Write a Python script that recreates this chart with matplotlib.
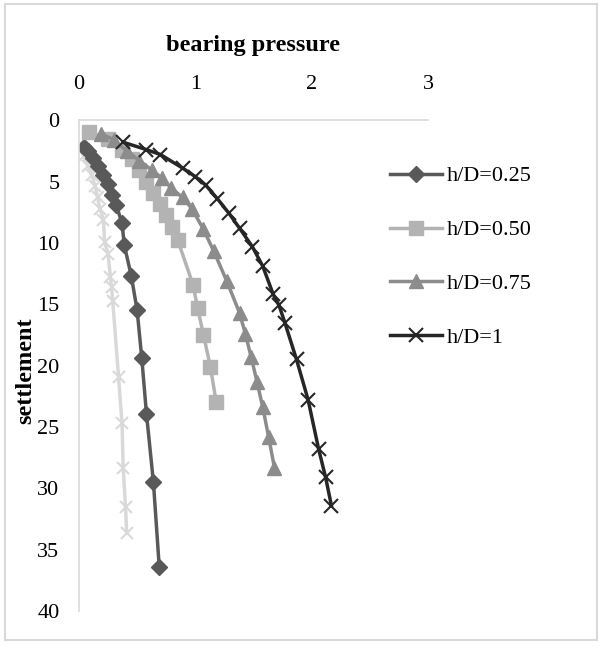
import matplotlib.pyplot as plt
from matplotlib.patches import Rectangle

plt.rcParams['font.family'] = ['Liberation Serif', 'DejaVu Serif']

# bearing pressure (x) vs settlement (y)
p_025 = [0.04, 0.08, 0.12, 0.16, 0.21, 0.25, 0.28, 0.32, 0.37, 0.39, 0.45, 0.50, 0.54, 0.58, 0.64, 0.69]
s_025 = [2.2, 2.5, 3.1, 3.7, 4.5, 5.2, 6.1, 6.9, 8.4, 10.2, 12.7, 15.5, 19.4, 23.9, 29.5, 36.4]

p_050 = [0.09, 0.25, 0.37, 0.46, 0.52, 0.58, 0.64, 0.70, 0.75, 0.80, 0.85, 0.98, 1.02, 1.07, 1.13, 1.18]
s_050 = [1.0, 1.5, 2.4, 3.2, 4.1, 5.0, 5.9, 6.8, 7.7, 8.7, 9.8, 13.4, 15.3, 17.5, 20.1, 23.0]

p_075 = [0.19, 0.30, 0.41, 0.52, 0.63, 0.71, 0.79, 0.89, 0.97, 1.07, 1.16, 1.27, 1.38, 1.43, 1.48, 1.53, 1.58, 1.63, 1.68]
s_075 = [1.1, 1.6, 2.5, 3.3, 4.1, 4.7, 5.5, 6.3, 7.2, 8.9, 10.7, 13.1, 15.7, 17.4, 19.3, 21.3, 23.4, 25.8, 28.3]

p_1 = [0.38, 0.58, 0.70, 0.89, 1.00, 1.09, 1.19, 1.29, 1.38, 1.49, 1.58, 1.67, 1.72, 1.77, 1.87, 1.97, 2.06, 2.12, 2.17]
s_1 = [1.8, 2.4, 2.8, 3.9, 4.6, 5.3, 6.4, 7.6, 8.8, 10.3, 11.9, 14.2, 15.1, 16.5, 19.5, 22.8, 26.8, 29.1, 31.4]

# extra light series (not in legend)
p_extra = [0.01, 0.04, 0.08, 0.11, 0.14, 0.16, 0.18, 0.21, 0.22, 0.25, 0.27, 0.28, 0.29, 0.34, 0.37, 0.38, 0.40, 0.41]
s_extra = [2.3, 2.9, 3.7, 4.5, 5.4, 6.3, 7.2, 8.1, 9.9, 10.9, 12.8, 13.6, 14.7, 20.9, 24.7, 28.3, 31.5, 33.6]

fs = 16

fig = plt.figure(figsize=(6.01, 6.46), dpi=100)
ax = fig.add_axes([0.1314, 0.054, 0.5807, 0.760])

ax.plot(p_extra, s_extra, color='#d9d9d9', lw=2.5, marker='x', ms=9, mew=1.5, label='_nolegend_')
ax.plot(p_025, s_025, color='#595959', lw=2.5, marker='D', ms=8, label='h/D=0.25')
ax.plot(p_050, s_050, color='#b3b3b3', lw=2.5, marker='s', ms=10, label='h/D=0.50')
ax.plot(p_075, s_075, color='#8c8c8c', lw=2.5, marker='^', ms=10, label='h/D=0.75')
ax.plot(p_1, s_1, color='#262626', lw=2.5, marker='x', ms=10, mew=1.5, label='h/D=1')

ax.set_xlim(0, 3)
ax.set_ylim(40, 0)
ax.set_xticks([0, 1, 2, 3])
ax.set_yticks(range(0, 41, 5))
ax.xaxis.tick_top()
ax.xaxis.set_label_position('top')
ax.tick_params(length=0, labelsize=fs)
ax.tick_params(axis='x', pad=19)
ax.tick_params(axis='y', pad=14)
for side in ['right', 'bottom']:
    ax.spines[side].set_visible(False)
for side in ['top', 'left']:
    ax.spines[side].set_color('#d9d9d9')
    ax.spines[side].set_linewidth(1.2)

ax.set_xlabel('bearing pressure', fontsize=17.5, fontweight='bold')
ax.xaxis.set_label_coords(0.5, 1.14)
ax.set_ylabel('settlement', fontsize=17.5, fontweight='bold')
ax.yaxis.set_label_coords(-0.122, 0.49)

ax.legend(loc='upper left', bbox_to_anchor=(0.634, 0.757), bbox_transform=fig.transFigure,
          frameon=False, fontsize=fs, handlelength=2.34, handletextpad=0.2,
          labelspacing=1.5, borderaxespad=0)

fig.patches.append(Rectangle((0.008, 0.009), 0.985, 0.985, transform=fig.transFigure,
                             fill=False, edgecolor='#d9d9d9', lw=1.5))

plt.savefig('out.png', dpi=100)
